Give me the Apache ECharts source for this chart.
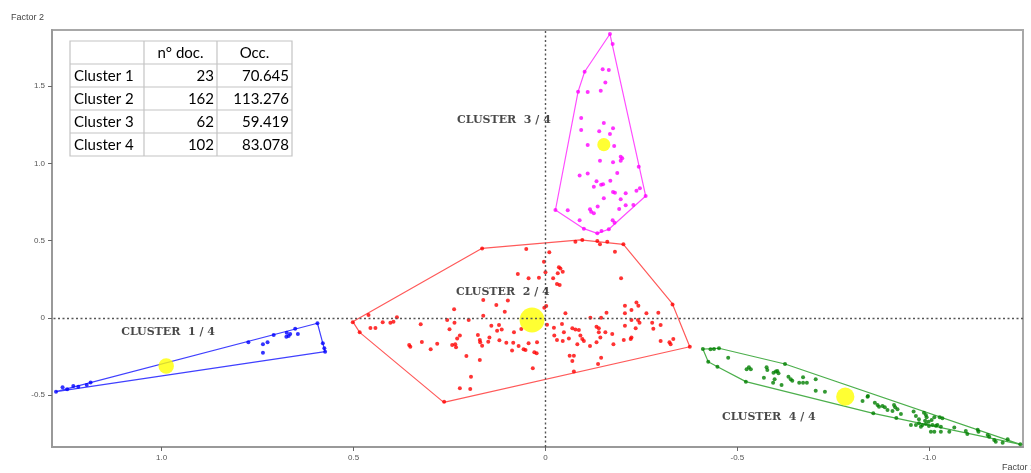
<!DOCTYPE html>
<html><head><meta charset="utf-8">
<script src="https://cdn.jsdelivr.net/npm/echarts@6/dist/echarts.min.js"></script>
<style>html,body{margin:0;padding:0;background:#fff}#c{width:1031px;height:473px}</style>
</head><body><div id="c"></div>
<script>
// ---- table data ----
const tableHeader = ['', 'n° doc.', 'Occ.'];
const clusterNames = ['Cluster 1', 'Cluster 2', 'Cluster 3', 'Cluster 4'];
const nDocs = [23, 162, 62, 102];
const occ = [70.645, 113.276, 59.419, 83.078];

// ---- axes ----
const xTicks = [1.0, 0.5, 0, -0.5, -1.0];
const yTicks = [1.5, 1.0, 0.5, 0, -0.5];
const axisTitles = ['Factor 1', 'Factor 2'];

// ---- cluster labels (data coords) ----
const clusterLabels = ['CLUSTER  1 / 4', 'CLUSTER  2 / 4', 'CLUSTER  3 / 4', 'CLUSTER  4 / 4'];
const clusterLabelAt = [[1.104, -0.093], [0.232, 0.164], [0.229, 1.275], [-0.461, -0.643]];

// ---- centroids ----
const centroids = [[0.988, -0.311], [0.035, -0.013], [-0.152, 1.122], [-0.781, -0.509]];

// ---- cluster 1 ----
const c1Points = [[1.275,-0.477],[1.258,-0.449],[1.246,-0.462],[1.230,-0.440],[1.217,-0.445],[1.195,-0.434],[1.185,-0.418],
[0.774,-0.157],[0.736,-0.170],[0.724,-0.157],[0.736,-0.225],[0.708,-0.110],[0.674,-0.095],[0.675,-0.121],[0.669,-0.117],
[0.665,-0.104],[0.652,-0.069],[0.645,-0.104],[0.594,-0.034],[0.580,-0.164],[0.576,-0.196],[0.574,-0.218]];
const c1Hull = [[1.275,-0.477],[0.594,-0.034],[0.580,-0.164],[0.574,-0.218],[1.275,-0.477]];

// ---- cluster 2 ----
const c2Points = [[0.165,0.449],[0.072,0.285],[0.162,0.117],[0.128,0.084],[0.098,0.114],[0.238,0.056],[0.162,0.015],[0.106,0.041],
[0.461,0.019],[0.387,0.004],[0.502,-0.028],[0.484,-0.093],[0.456,-0.065],[0.443,-0.065],[0.424,-0.028],[0.404,-0.030],[0.396,-0.024],
[0.325,-0.041],[0.256,-0.013],[0.237,-0.030],[0.200,-0.013],[0.250,-0.073],[0.141,-0.050],[0.121,-0.045],[0.126,-0.082],[0.114,-0.075],
[0.082,-0.093],[0.063,-0.071],[0.355,-0.175],[0.352,-0.186],[0.322,-0.155],[0.299,-0.203],[0.282,-0.166],[0.243,-0.175],[0.235,-0.170],
[0.230,-0.132],[0.223,-0.114],[0.233,-0.190],[0.176,-0.110],[0.171,-0.142],[0.170,-0.157],[0.165,-0.179],[0.149,-0.153],[0.146,-0.127],
[0.120,-0.144],[0.102,-0.160],[0.084,-0.160],[0.087,-0.211],[0.070,-0.181],[0.057,-0.203],[0.206,-0.246],[0.171,-0.272],[0.194,-0.380],
[0.223,-0.455],[0.196,-0.460],[0.264,-0.542],
[0.050,0.447],[-0.010,0.425],[-0.078,0.494],[-0.096,0.505],[-0.135,0.498],[-0.142,0.477],[-0.161,0.494],[-0.203,0.477],[-0.181,0.429],
[0.004,0.364],[0.000,0.296],[-0.035,0.328],[-0.039,0.321],[-0.032,0.289],[-0.045,0.300],[0.044,0.257],[0.017,0.261],[-0.020,0.257],
[-0.030,0.220],[-0.037,0.214],[-0.197,0.257],[-0.002,0.078],[0.003,0.067],[-0.052,0.030],[-0.117,0.002],[-0.145,0.002],[-0.159,0.034],
[-0.207,0.080],[-0.224,0.052],[-0.237,0.101],[-0.242,0.080],[-0.207,0.030],[-0.263,0.030],[-0.294,0.034],[-0.331,0.088],[-0.224,-0.013],
[-0.241,-0.013],[-0.245,-0.030],[-0.278,-0.030],[-0.300,-0.045],[-0.043,-0.039],[-0.004,-0.043],[-0.022,-0.063],[-0.133,-0.056],
[-0.139,-0.067],[-0.207,-0.050],[-0.235,-0.067],[-0.281,-0.069],[-0.070,-0.067],[-0.078,-0.075],[-0.087,-0.078],[-0.048,-0.093],
[-0.139,-0.093],[-0.156,-0.093],[-0.174,-0.104],[-0.023,-0.114],[-0.030,-0.142],[-0.045,-0.149],[-0.061,-0.132],[-0.091,-0.114],
[-0.096,-0.136],[-0.100,-0.149],[-0.083,-0.170],[-0.116,-0.181],[-0.133,-0.157],[-0.143,-0.127],[-0.177,-0.170],[-0.204,-0.142],
[-0.222,-0.136],[-0.224,-0.127],[-0.300,-0.149],[-0.323,-0.157],[-0.326,-0.170],[-0.333,-0.136],[-0.376,-0.186],[0.044,-0.164],
[0.022,-0.157],[0.052,-0.207],[0.029,-0.222],[0.023,-0.228],[-0.063,-0.244],[-0.074,-0.244],[-0.070,-0.278],[-0.145,-0.257],
[-0.137,-0.298],[0.033,-0.326],[-0.074,-0.347]];
const c2Hull = [[0.502,-0.024],[0.165,0.451],[-0.091,0.505],[-0.203,0.477],[-0.330,0.095],[-0.376,-0.186],[0.265,-0.546],[0.484,-0.093],[0.502,-0.024]];

// ---- cluster 3 ----
const c3Points = [[-0.168,1.838],[-0.175,1.773],[-0.102,1.594],[-0.149,1.610],[-0.165,1.605],[-0.156,1.525],[-0.085,1.465],[-0.110,1.463],
[-0.144,1.471],[-0.093,1.294],[-0.152,1.262],[-0.093,1.217],[-0.140,1.208],[-0.176,1.228],[-0.168,1.191],[-0.110,1.120],[-0.179,1.113],
[-0.142,1.018],[-0.176,1.008],[-0.196,1.044],[-0.200,1.034],[-0.196,1.018],[-0.243,0.979],[-0.110,0.936],[-0.089,0.923],[-0.187,0.939],
[-0.133,0.885],[-0.145,0.863],[-0.150,0.865],[-0.126,0.850],[-0.169,0.889],[-0.176,0.816],[-0.181,0.811],[-0.209,0.807],[-0.237,0.824],
[-0.246,0.839],[-0.261,0.790],[-0.152,0.775],[-0.196,0.768],[-0.026,0.699],[-0.058,0.697],[-0.116,0.704],[-0.119,0.688],[-0.126,0.678],
[-0.136,0.721],[-0.192,0.706],[-0.209,0.729],[-0.229,0.731],[-0.089,0.632],[-0.175,0.632],[-0.180,0.617],[-0.100,0.578],[-0.135,0.548],
[-0.146,0.563],[-0.165,0.574]];
const c3Hull = [[-0.168,1.838],[-0.102,1.594],[-0.085,1.465],[-0.026,0.699],[-0.100,0.578],[-0.135,0.548],[-0.165,0.574],[-0.261,0.790],[-0.168,1.838]];

// ---- cluster 4 ----
const c4Points = [[-0.410,-0.201],[-0.430,-0.203],[-0.439,-0.201],[-0.452,-0.196],[-0.424,-0.283],[-0.448,-0.315],[-0.476,-0.257],
[-0.522,-0.412],[-0.524,-0.332],[-0.530,-0.319],[-0.535,-0.332],[-0.569,-0.386],[-0.576,-0.319],[-0.578,-0.337],[-0.594,-0.354],
[-0.600,-0.347],[-0.604,-0.343],[-0.607,-0.358],[-0.597,-0.397],[-0.593,-0.419],[-0.615,-0.434],[-0.624,-0.298],[-0.633,-0.380],
[-0.639,-0.397],[-0.643,-0.406],[-0.661,-0.419],[-0.671,-0.384],[-0.671,-0.419],[-0.681,-0.419],[-0.704,-0.397],[-0.704,-0.471],
[-0.728,-0.477],[-0.826,-0.537],[-0.839,-0.509],[-0.840,-0.505],[-0.854,-0.617],[-0.858,-0.548],[-0.865,-0.563],[-0.869,-0.574],
[-0.878,-0.570],[-0.884,-0.578],[-0.891,-0.595],[-0.908,-0.563],[-0.911,-0.578],[-0.917,-0.591],[-0.904,-0.602],[-0.926,-0.621],
[-0.914,-0.648],[-0.959,-0.606],[-0.965,-0.634],[-0.973,-0.656],[-0.986,-0.613],[-0.991,-0.628],[-0.993,-0.643],[-0.989,-0.665],
[-0.998,-0.671],[-1.006,-0.660],[-1.013,-0.643],[-1.021,-0.693],[-1.027,-0.643],[-1.034,-0.649],[-0.952,-0.693],[-0.965,-0.693],
[-0.973,-0.682],[-0.978,-0.704],[-0.982,-0.693],[-0.991,-0.686],[-0.999,-0.699],[-1.008,-0.693],[-1.017,-0.697],[-1.004,-0.736],
[-1.013,-0.736],[-1.030,-0.736],[-1.030,-0.704],[-1.052,-0.736],[-1.065,-0.708],[-1.095,-0.731],[-1.099,-0.751],[-1.126,-0.724],
[-1.128,-0.736],[-1.152,-0.757],[-1.156,-0.768],[-1.169,-0.790],[-1.173,-0.801],[-1.191,-0.807],[-1.204,-0.785],[-1.237,-0.818]];
const c4Hull = [[-0.410,-0.201],[-0.452,-0.196],[-0.624,-0.298],[-1.237,-0.818],[-0.854,-0.617],[-0.522,-0.412],[-0.448,-0.315],[-0.424,-0.283],[-0.410,-0.201]];

const clusterPoints = [c1Points, c2Points, c3Points, c4Points];
const clusterHulls = [c1Hull, c2Hull, c3Hull, c4Hull];
const pointColors = ['#0000ff', '#ff0000', '#ff00ff', '#008000'];
const hullColors = ['#4040ff', '#ff5a5a', '#ff4dff', '#4caf4c'];

const chart = echarts.init(document.getElementById('c'), null, {renderer: 'canvas'});

const fmt = v => (v === 0 ? '0' : v.toFixed(1));
const series = [];
clusterHulls.forEach((h, i) => {
  series.push({
    type: 'line', data: h, symbol: 'none', silent: true, z: 2,
    lineStyle: {color: hullColors[i], width: 1.2},
    markLine: i === 0 ? {
      silent: true, symbol: ['none', 'none'], label: {show: false},
      lineStyle: {color: '#555', type: [2, 2.5], width: 1.4},
      data: [{xAxis: 0}, {yAxis: 0}]
    } : undefined
  });
});
clusterPoints.forEach((p, i) => {
  series.push({
    type: 'scatter', data: p, symbolSize: 4, silent: true, z: 3,
    itemStyle: {color: pointColors[i]}
  });
});
series.push({
  type: 'scatter', data: centroids, z: 4, silent: true,
  symbolSize: (v, params) => occ[params.dataIndex] * 0.22,
  itemStyle: {color: '#ffff00'}
});
series.push({
  type: 'scatter', data: clusterLabelAt, symbolSize: 1, z: 5, silent: true,
  itemStyle: {color: 'rgba(0,0,0,0)'},
  label: {
    show: true, position: [0, 0], align: 'left', verticalAlign: 'middle',
    formatter: p => clusterLabels[p.dataIndex],
    fontFamily: 'DejaVu Serif', fontWeight: 'bold', fontSize: 11, color: '#1a1a1a'
  }
});

// table graphic
const tX = 70, tY = 41, colW = [74, 73, 75], rowH = 23;
const tW = colW.reduce((a, b) => a + b, 0), tH = rowH * (clusterNames.length + 1);
const tableEls = [{type: 'rect', shape: {x: tX, y: tY, width: tW, height: tH}, style: {fill: '#fff', stroke: '#c4c4c4', lineWidth: 1.2}}];
let cx = tX;
for (let c = 0; c < colW.length - 1; c++) {
  cx += colW[c];
  tableEls.push({type: 'line', shape: {x1: cx, y1: tY, x2: cx, y2: tY + tH}, style: {stroke: '#c4c4c4', lineWidth: 1.2}});
}
for (let r = 1; r <= clusterNames.length; r++) {
  tableEls.push({type: 'line', shape: {x1: tX, y1: tY + r * rowH, x2: tX + tW, y2: tY + r * rowH}, style: {stroke: '#c4c4c4', lineWidth: 1.2}});
}
const tFont = '15px Lato';
tableHeader.forEach((h, c) => {
  if (!h) return;
  const x0 = tX + colW.slice(0, c).reduce((a, b) => a + b, 0);
  tableEls.push({type: 'text', x: x0 + colW[c] / 2, y: tY + rowH / 2 + 1, style: {text: h, font: tFont, fill: '#000', align: 'center', verticalAlign: 'middle'}});
});
clusterNames.forEach((n, r) => {
  const y = tY + (r + 1) * rowH + rowH / 2 + 1;
  tableEls.push({type: 'text', x: tX + 4, y, style: {text: n, font: tFont, fill: '#000', align: 'left', verticalAlign: 'middle'}});
  tableEls.push({type: 'text', x: tX + colW[0] + colW[1] - 3, y, style: {text: String(nDocs[r]), font: tFont, fill: '#000', align: 'right', verticalAlign: 'middle'}});
  tableEls.push({type: 'text', x: tX + tW - 3, y, style: {text: occ[r].toFixed(3), font: tFont, fill: '#000', align: 'right', verticalAlign: 'middle'}});
});

chart.setOption({
  animation: false,
  backgroundColor: '#fff',
  grid: {left: 52, right: 8, top: 30, bottom: 26, show: true, borderColor: '#a8a8a8', borderWidth: 2},
  xAxis: {
    type: 'value', inverse: true, min: -1.244, max: 1.2855, position: 'bottom',
    axisLine: {onZero: false, lineStyle: {color: '#999', width: 2}},
    axisTick: {show: true, customValues: xTicks, length: 4, lineStyle: {color: '#666'}},
    axisLabel: {customValues: xTicks, formatter: fmt, fontSize: 8, color: '#555', margin: 7, fontFamily: 'Liberation Sans'},
    splitLine: {show: false}
  },
  yAxis: {
    type: 'value', min: -0.835, max: 1.864,
    axisLine: {onZero: false, lineStyle: {color: '#999', width: 2}},
    axisTick: {show: true, customValues: yTicks, length: 4, lineStyle: {color: '#666'}},
    axisLabel: {customValues: yTicks, formatter: fmt, fontSize: 8, color: '#555', margin: 7, fontFamily: 'Liberation Sans'},
    splitLine: {show: false}
  },
  graphic: [
    {type: 'group', z: 100, children: tableEls},
    {type: 'text', left: 11, top: 13, z: 100, style: {text: axisTitles[1], font: '9px Liberation Sans', fill: '#444'}},
    {type: 'text', left: 1002, top: 463, z: 100, style: {text: axisTitles[0], font: '9px Liberation Sans', fill: '#444'}}
  ],
  series
});
</script>
</body></html>
